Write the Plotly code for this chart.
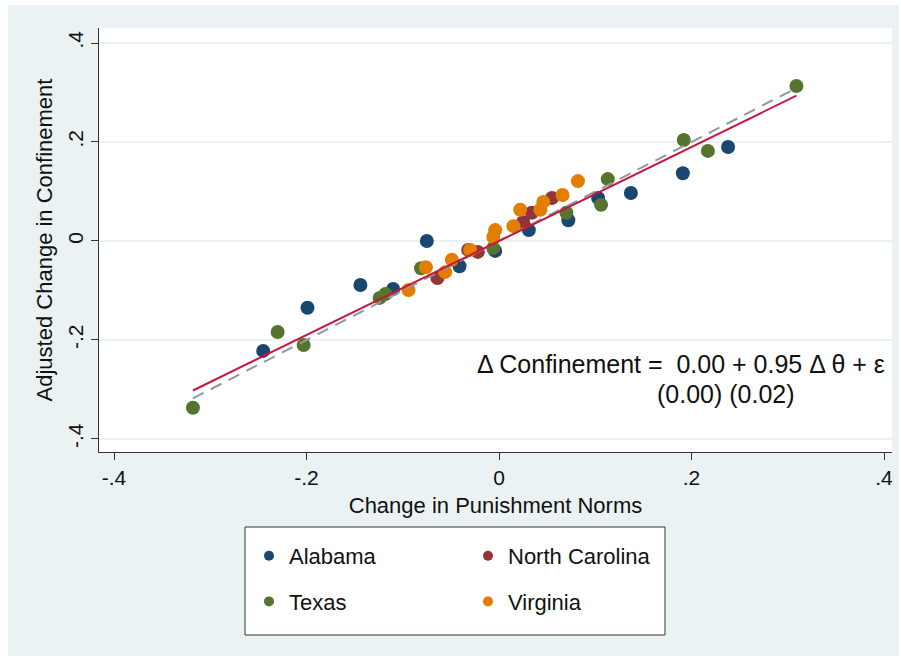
import plotly.graph_objects as go

# Change in punishment norms (x) and adjusted change in confinement (y), by state
alabama_x = [-0.245, -0.199, -0.144, -0.110, -0.075, -0.041, -0.004, 0.031, 0.072, 0.103, 0.137, 0.191, 0.238]
alabama_y = [-0.222, -0.135, -0.089, -0.097, 0.000, -0.051, -0.020, 0.022, 0.042, 0.087, 0.097, 0.137, 0.190]

nc_x = [-0.064, -0.032, -0.022, 0.025, 0.034, 0.055]
nc_y = [-0.075, -0.018, -0.022, 0.038, 0.057, 0.087]

texas_x = [-0.318, -0.230, -0.203, -0.124, -0.118, -0.081, -0.006, 0.070, 0.106, 0.113, 0.192, 0.217, 0.309]
texas_y = [-0.337, -0.184, -0.210, -0.115, -0.107, -0.055, -0.014, 0.057, 0.073, 0.125, 0.204, 0.182, 0.313]

virginia_x = [-0.094, -0.076, -0.056, -0.049, -0.030, -0.006, -0.004, 0.015, 0.022, 0.043, 0.046, 0.066, 0.082]
virginia_y = [-0.099, -0.053, -0.063, -0.038, -0.018, 0.008, 0.022, 0.030, 0.063, 0.063, 0.079, 0.093, 0.121]

# Regression estimates shown in the equation
intercept, slope = 0.00, 0.95
intercept_se, slope_se = 0.00, 0.02

tick_vals = [-0.4, -0.2, 0, 0.2, 0.4]
tick_text = ["-.4", "-.2", "0", ".2", ".4"]

states = [
    ("Alabama", alabama_x, alabama_y, "#1a476f", "legend"),
    ("North Carolina", nc_x, nc_y, "#90353b", "legend2"),
    ("Texas", texas_x, texas_y, "#55752f", "legend"),
    ("Virginia", virginia_x, virginia_y, "#e37e00", "legend2"),
]

FONT = "Liberation Sans, Arial, Helvetica, sans-serif"
BG = "#eaf2f3"

W, H = 901, 662
L, R, T, B = 99, 9, 28, 210
PW, PH = W - L - R, H - T - B


def px_x(p):
    return (p - L) / PW


def px_y(p):
    return (H - B - p) / PH


fig = go.Figure()

for name, xs, ys, color, leg in states:
    fig.add_trace(go.Scatter(
        x=xs, y=ys, mode="markers", name=name, showlegend=False,
        marker=dict(color=color, size=14, line=dict(width=0)),
    ))

all_x = alabama_x + nc_x + texas_x + virginia_x
x_lo, x_hi = min(all_x), max(all_x)

# 45-degree reference line
fig.add_trace(go.Scatter(
    x=[x_lo, x_hi], y=[x_lo, x_hi], mode="lines", showlegend=False,
    line=dict(color="#8c9a9a", width=2, dash="12px,8px"), hoverinfo="skip",
))
# Fitted line
fig.add_trace(go.Scatter(
    x=[x_lo, x_hi], y=[intercept + slope * x_lo, intercept + slope * x_hi],
    mode="lines", showlegend=False,
    line=dict(color="#c8173f", width=2), hoverinfo="skip",
))

# Legend keys (smaller dots than the plotted markers)
for name, xs, ys, color, leg in states:
    fig.add_trace(go.Scatter(
        x=[None], y=[None], mode="markers", name=name,
        marker=dict(color=color, size=10, line=dict(width=0)),
        legend=leg, legendgroup=name,
    ))

shapes = [
    # legend box
    dict(type="rect", xref="paper", yref="paper",
         x0=px_x(245), x1=px_x(665), y0=px_y(635), y1=px_y(527),
         fillcolor="white", line=dict(color="#333333", width=1), layer="below"),
]
# thin white frame around the graph region
for x0, x1, y0, y1 in [(0, 8, 0, H), (899, W, 0, H), (0, W, 0, 5), (0, W, 656, H)]:
    shapes.append(dict(type="rect", xref="paper", yref="paper",
                       x0=px_x(x0), x1=px_x(x1), y0=px_y(y1), y1=px_y(y0),
                       fillcolor="white", line=dict(width=0), layer="below"))

annotations = [
    dict(xref="paper", yref="paper", x=px_x(887), y=px_y(364),
         xanchor="right", yanchor="middle", showarrow=False,
         text=f"\u0394 Confinement =  {intercept:.2f} + {slope:.2f} \u0394 \u03b8 + \u03b5",
         font=dict(family=FONT, size=25, color="#111111")),
    dict(xref="paper", yref="paper", x=px_x(655), y=px_y(394),
         xanchor="left", yanchor="middle", showarrow=False,
         text=f"({intercept_se:.2f}) ({slope_se:.2f})",
         font=dict(family=FONT, size=25, color="#111111")),
]

legend_common = dict(
    orientation="v", bgcolor="rgba(0,0,0,0)", borderwidth=0,
    font=dict(family=FONT, size=22, color="#111111"),
    xanchor="left", yanchor="top", tracegroupgap=14, itemsizing="trace",
    traceorder="grouped",
)

fig.update_layout(
    width=W, height=H,
    margin=dict(l=L, r=R, t=T, b=B, pad=0),
    paper_bgcolor=BG, plot_bgcolor="white",
    font=dict(family=FONT, size=21, color="#111111"),
    showlegend=True,
    legend=dict(x=px_x(249), y=px_y(535), **legend_common),
    legend2=dict(x=px_x(468), y=px_y(535), **legend_common),
    shapes=shapes, annotations=annotations,
    xaxis=dict(
        range=[-0.4156, 0.4083], tickvals=tick_vals, ticktext=tick_text,
        showgrid=False, zeroline=False, showline=True, linecolor="#333333", linewidth=1,
        ticks="outside", ticklen=7, tickcolor="#333333",
        tickfont=dict(family=FONT, size=21),
        title=dict(text="Change in Punishment Norms", font=dict(family=FONT, size=22), standoff=9),
    ),
    yaxis=dict(
        range=[-0.4263, 0.4303], tickvals=tick_vals, ticktext=tick_text, tickangle=-90,
        showgrid=True, gridcolor=BG, gridwidth=1.5, zeroline=False,
        showline=True, linecolor="#333333", linewidth=1,
        ticks="outside", ticklen=7, tickcolor="#333333",
        tickfont=dict(family=FONT, size=21),
        title=dict(text="Adjusted Change in Confinement", font=dict(family=FONT, size=22), standoff=4),
    ),
)

fig.write_html("out.html")
